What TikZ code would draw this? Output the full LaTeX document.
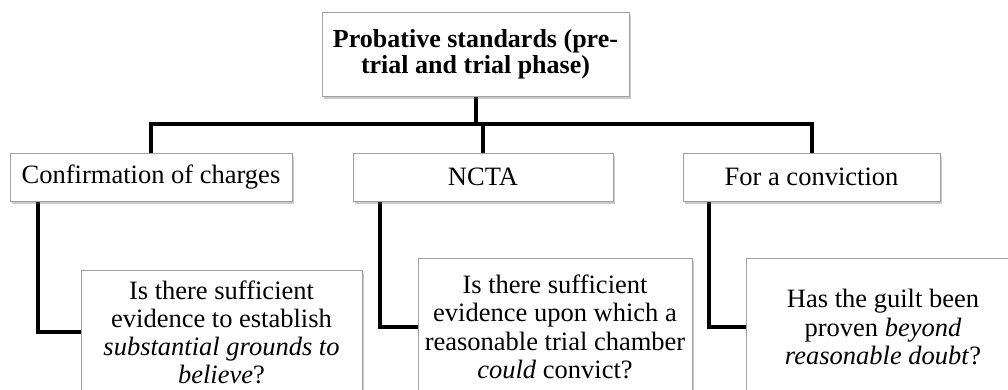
\documentclass[tikz,border=0pt]{standalone}
\usepackage{fontspec}
\setmainfont{Liberation Serif}
\usetikzlibrary{shadows,backgrounds}
\definecolor{boxline}{RGB}{160,160,160}
\tikzset{
  box/.style={draw=boxline, line width=1pt, fill=white, inner sep=0pt, align=center,
    drop shadow={shadow xshift=2pt, shadow yshift=-3pt, opacity=0.35, fill=black!60},
    font=\fontsize{26.5}{28.5}\selectfont},
  conn/.style={line width=4pt, black}
}
\begin{document}
\begin{tikzpicture}[x=1pt,y=-1pt]
\useasboundingbox (0,0) rectangle (1008,389);
\clip (0,0) rectangle (1008,389);
\node[box, minimum width=307pt, minimum height=84pt, font=\fontsize{26}{26}\selectfont\bfseries] (top) at (475.5,54) {Probative standards (pre-\\trial and trial phase)};
\node[box, minimum width=282pt, minimum height=48pt] (conf) at (151,177) {Confirmation of charges};
\node[box, minimum width=260pt, minimum height=48pt] (ncta) at (483,177) {NCTA};
\node[box, minimum width=257pt, minimum height=48pt] (conv) at (811.5,177) {For a conviction};
\node[box, minimum width=281pt, minimum height=124pt, font=\fontsize{26.5}{28}\selectfont] (c1) at (221.5,332) {Is there sufficient\\evidence to establish\\\textit{substantial grounds to}\\\textit{believe}?};
\node[box, minimum width=274pt, minimum height=138pt] (c2) at (555,327) {Is there sufficient\\evidence upon which a\\reasonable trial chamber\\\textit{could} convict?};
\node[box, minimum width=274pt, minimum height=138pt] (c3) at (883,327) {Has the guilt been\\proven \textit{beyond}\\\textit{reasonable doubt}?};
\begin{scope}[on background layer]
\draw[conn] (top.south) -- ++(0,28);
\draw[conn] (conf.north) -- ++(0,-29) -| (conv.north);
\draw[conn] (ncta.north) -- ++(0,-29);
\draw[conn] ([xshift=28pt]conf.south west) |- (c1.west);
\draw[conn] ([xshift=27pt]ncta.south west) |- (c2.west);
\draw[conn] ([xshift=26pt]conv.south west) |- (c3.west);
\end{scope}
\end{tikzpicture}
\end{document}
